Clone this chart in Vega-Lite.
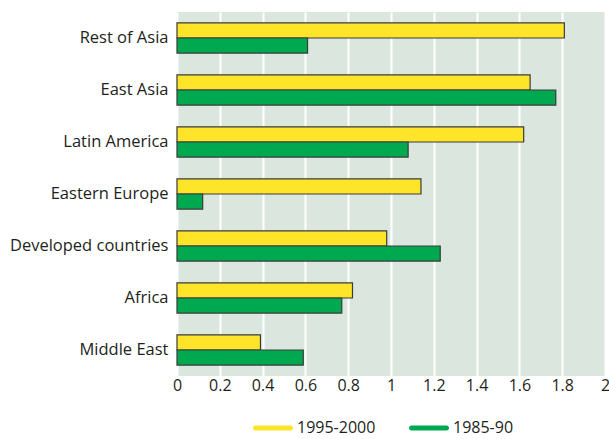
{
  "$schema": "https://vega.github.io/schema/vega-lite/v6.json",
  "width": 428,
  "height": 364,
  "autosize": {"type": "none"},
  "padding": {"left": 177, "top": 12, "right": 4, "bottom": 63},
  "background": "white",
  "config": {
    "view": {"fill": "#dbe6df", "stroke": null},
    "font": "Open Sans"
  },
  "data": {
    "values": [
      {"region": "Rest of Asia", "period": "1995-2000", "value": 1.81},
      {"region": "Rest of Asia", "period": "1985-90", "value": 0.61},
      {"region": "East Asia", "period": "1995-2000", "value": 1.65},
      {"region": "East Asia", "period": "1985-90", "value": 1.77},
      {"region": "Latin America", "period": "1995-2000", "value": 1.62},
      {"region": "Latin America", "period": "1985-90", "value": 1.08},
      {"region": "Eastern Europe", "period": "1995-2000", "value": 1.14},
      {"region": "Eastern Europe", "period": "1985-90", "value": 0.12},
      {"region": "Developed countries", "period": "1995-2000", "value": 0.98},
      {"region": "Developed countries", "period": "1985-90", "value": 1.23},
      {"region": "Africa", "period": "1995-2000", "value": 0.82},
      {"region": "Africa", "period": "1985-90", "value": 0.77},
      {"region": "Middle East", "period": "1995-2000", "value": 0.39},
      {"region": "Middle East", "period": "1985-90", "value": 0.59}
    ]
  },
  "mark": {"type": "bar", "stroke": "#3a3a3a", "strokeWidth": 1.2},
  "encoding": {
    "y": {
      "field": "region",
      "type": "nominal",
      "sort": ["Rest of Asia", "East Asia", "Latin America", "Eastern Europe", "Developed countries", "Africa", "Middle East"],
      "scale": {"paddingInner": 0.42, "paddingOuter": 0.21},
      "axis": {
        "title": null,
        "domain": false,
        "ticks": false,
        "labelFontSize": 16.5,
        "labelColor": "#231f20",
        "labelPadding": 9
      }
    },
    "yOffset": {
      "field": "period",
      "type": "nominal",
      "sort": ["1995-2000", "1985-90"],
      "scale": {"paddingInner": 0, "paddingOuter": 0}
    },
    "x": {
      "field": "value",
      "type": "quantitative",
      "scale": {"domain": [0, 2], "nice": false},
      "axis": {
        "title": null,
        "domain": false,
        "ticks": false,
        "values": [0, 0.2, 0.4, 0.6, 0.8, 1, 1.2, 1.4, 1.6, 1.8, 2],
        "format": "~g",
        "labelFontSize": 16,
        "labelColor": "#231f20",
        "labelPadding": 1,
        "labelFlush": false,
        "grid": true,
        "gridColor": "white",
        "gridWidth": 2,
        "gridOpacity": 1
      }
    },
    "color": {
      "field": "period",
      "type": "nominal",
      "sort": ["1995-2000", "1985-90"],
      "scale": {"domain": ["1995-2000", "1985-90"], "range": ["#ffe52a", "#00a84f"]},
      "legend": {
        "title": null,
        "orient": "none",
        "direction": "horizontal",
        "columns": 2,
        "legendX": 76,
        "legendY": 396,
        "columnPadding": 33,
        "symbolType": "M-0.88,-0.12 L0.88,-0.12 A0.12,0.12 0 0 1 0.88,0.12 L-0.88,0.12 A0.12,0.12 0 0 1 -0.88,-0.12 Z",
        "symbolSize": 1600,
        "symbolStrokeWidth": 0,
        "symbolOpacity": 1,
        "labelFontSize": 16,
        "labelColor": "#231f20",
        "labelOffset": 4
      }
    }
  }
}
